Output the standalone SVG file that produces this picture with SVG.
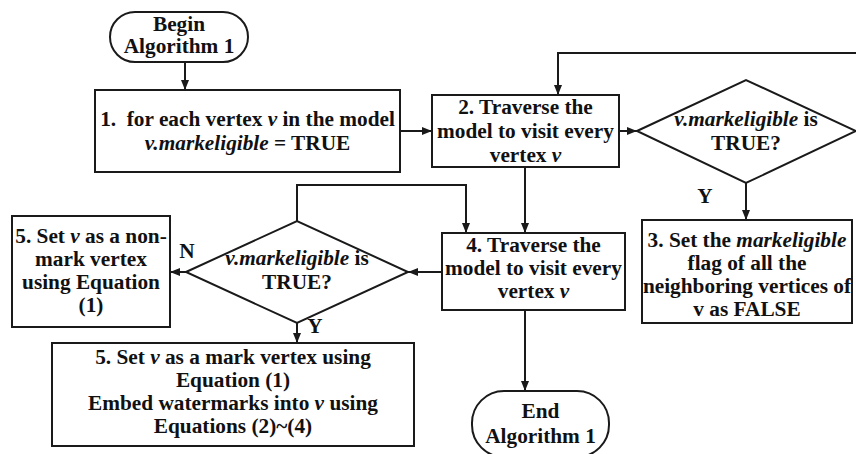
<svg xmlns="http://www.w3.org/2000/svg" width="856" height="454" viewBox="0 0 856 454">
<style>
  .shape { fill: #fff; stroke: #1a1a1a; stroke-width: 2; }
  .conn { fill: none; stroke: #1a1a1a; stroke-width: 2; marker-end: url(#arrow); }
  text { font-family: "Liberation Serif", "Times New Roman", serif; font-weight: bold; font-size: 21.3px; fill: #111; text-anchor: middle; }
  .it { font-style: italic; }
</style>
<defs>
  <marker id="arrow" markerUnits="userSpaceOnUse" markerWidth="10" markerHeight="10" viewBox="0 0 10 10" refX="10" refY="5" orient="auto">
    <path d="M0,1 L10,5 L0,9 Z" fill="#1a1a1a"/>
  </marker>
</defs>
<rect width="856" height="454" fill="#fff"/>

<g id="connectors">
  <path class="conn" d="M185,62 V90"/>
  <path class="conn" d="M400,131 H432"/>
  <path class="conn" d="M619,131 H637"/>
  <path class="conn" d="M860,131 V53 H558 V95"/>
  <path class="conn" d="M746,183 V220"/>
  <path class="conn" d="M525,167 V233"/>
  <path class="conn" d="M297,221 V185 H466 V233"/>
  <path class="conn" d="M442,272 H408"/>
  <path class="conn" d="M186,272 H170"/>
  <path class="conn" d="M297,323 V343"/>
  <path class="conn" d="M525,310 V391"/>
  <text x="705" y="203">Y</text>
  <text x="187" y="258">N</text>
  <text x="315" y="333">Y</text>
</g>

<g id="begin">
  <rect class="shape" x="110" y="12" width="138" height="50" rx="25" ry="25"/>
  <text x="179" y="31">Begin</text>
  <text x="179" y="53">Algorithm 1</text>
</g>

<g id="step1">
  <rect class="shape" x="95" y="90" width="305" height="82"/>
  <text x="247.5" y="126">1.&#160; for each vertex <tspan class="it">v</tspan> in the model</text>
  <text x="247.5" y="150"><tspan class="it">v.markeligible</tspan> = TRUE</text>
</g>

<g id="step2">
  <rect class="shape" x="432" y="95" width="187" height="72"/>
  <text x="525.5" y="114">2. Traverse the</text>
  <text x="525.5" y="138">model to visit every</text>
  <text x="525.5" y="162">vertex <tspan class="it">v</tspan></text>
</g>

<g id="decision1">
  <polygon class="shape" points="637,131 746,80 856,131 746,183"/>
  <text x="746" y="126"><tspan class="it">v.markeligible</tspan> is</text>
  <text x="746" y="150">TRUE?</text>
</g>

<g id="step3">
  <rect class="shape" x="642" y="220" width="210" height="103"/>
  <text x="747" y="247">3. Set the <tspan class="it">markeligible</tspan></text>
  <text x="747" y="270">flag of all the</text>
  <text x="747" y="293">neighboring vertices of</text>
  <text x="747" y="316">v as FALSE</text>
</g>

<g id="step4">
  <rect class="shape" x="442" y="233" width="183" height="77"/>
  <text x="533.5" y="252">4. Traverse the</text>
  <text x="533.5" y="275">model to visit every</text>
  <text x="533.5" y="298">vertex <tspan class="it">v</tspan></text>
</g>

<g id="decision2">
  <polygon class="shape" points="186,272 297,221 408,272 297,323"/>
  <text x="297" y="265"><tspan class="it">v.markeligible</tspan> is</text>
  <text x="297" y="289">TRUE?</text>
</g>

<g id="step5-nonmark">
  <rect class="shape" x="12" y="216" width="158" height="111"/>
  <text x="91" y="243">5. Set <tspan class="it">v</tspan> as a non-</text>
  <text x="91" y="266">mark vertex</text>
  <text x="91" y="289">using Equation</text>
  <text x="91" y="312">(1)</text>
</g>

<g id="step5-mark">
  <rect class="shape" x="52" y="343" width="362" height="103"/>
  <text x="233" y="364">5. Set <tspan class="it">v</tspan> as a mark vertex using</text>
  <text x="233" y="387">Equation (1)</text>
  <text x="233" y="410">Embed watermarks into <tspan class="it">v</tspan> using</text>
  <text x="233" y="433">Equations (2)~(4)</text>
</g>

<g id="end">
  <rect class="shape" x="472" y="391" width="137" height="66" rx="32" ry="32"/>
  <text x="540.5" y="418">End</text>
  <text x="540.5" y="443">Algorithm 1</text>
</g>
</svg>
